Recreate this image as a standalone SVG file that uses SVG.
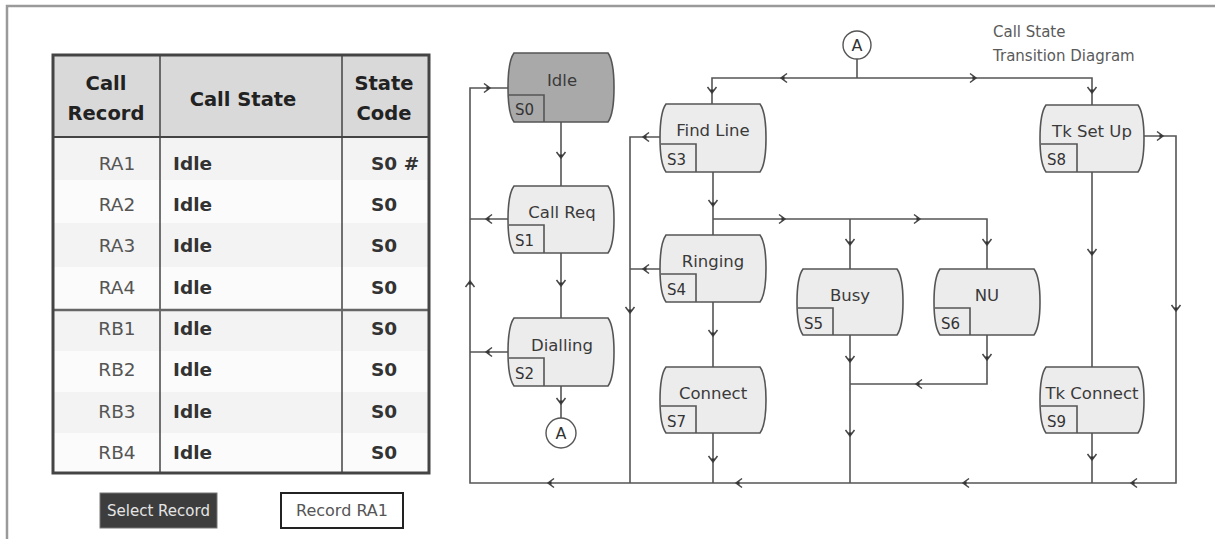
<svg xmlns="http://www.w3.org/2000/svg" xmlns:xlink="http://www.w3.org/1999/xlink" width="1215" height="539" viewBox="0 0 1215 539">
<style>
.hdr{font-family:"DejaVu Sans",sans-serif;font-weight:bold;font-size:19.5px;fill:#222;text-anchor:middle}
.rec{font-family:"DejaVu Sans",sans-serif;font-size:18.5px;fill:#555;text-anchor:middle}
.st{font-family:"DejaVu Sans",sans-serif;font-weight:bold;font-size:18.5px;fill:#333}
.node{fill:#ececec;stroke:#555;stroke-width:1.6}
.idle{fill:#a9a9a9}
.cbox{fill:none;stroke:#555;stroke-width:1.6}
.lbl{font-family:"DejaVu Sans",sans-serif;font-size:16.5px;fill:#3a3a3a;text-anchor:middle}
.code{font-family:"DejaVu Sans",sans-serif;font-size:15px;fill:#333}
.ln{fill:none;stroke:#555;stroke-width:1.6}
.circ{fill:#fff;stroke:#555;stroke-width:1.4}
.ctext{font-family:"DejaVu Sans",sans-serif;font-size:16px;fill:#333;text-anchor:middle}
.title{font-family:"DejaVu Sans",sans-serif;font-size:15px;fill:#5a5a5a}
</style>
<defs>
<g id="ah"><path d="M-6,-4.5 L0,0 L-6,4.5" fill="none" stroke="#444" stroke-width="1.5"/><path d="M-3.5,-2 L0,0 L-3.5,2Z" fill="#333"/></g>
</defs>
<rect x="0" y="0" width="1215" height="539" fill="#fff"/>
<path d="M7,539 V6 H1215" fill="none" stroke="#9a9a9a" stroke-width="2.5"/>

<!-- table -->
<g id="table">
<rect x="53" y="55" width="376" height="82" fill="#d9d9d9"/>
<rect x="53" y="137" width="376" height="43" fill="#f3f3f3"/>
<rect x="53" y="180" width="376" height="43" fill="#fbfbfb"/>
<rect x="53" y="223" width="376" height="44" fill="#f3f3f3"/>
<rect x="53" y="267" width="376" height="43" fill="#fbfbfb"/>
<rect x="53" y="310" width="376" height="41" fill="#f3f3f3"/>
<rect x="53" y="351" width="376" height="41" fill="#fbfbfb"/>
<rect x="53" y="392" width="376" height="41" fill="#f3f3f3"/>
<rect x="53" y="433" width="376" height="40" fill="#fbfbfb"/>
<path d="M160,55 V473 M342,55 V473" stroke="#444" stroke-width="1.5"/>
<path d="M53,137 H429" stroke="#444" stroke-width="1.8"/>
<path d="M53,310 H429" stroke="#666" stroke-width="2.5"/>
<rect x="53" y="55" width="376" height="418" fill="none" stroke="#444" stroke-width="3"/>
<text class="hdr" x="106" y="90">Call</text>
<text class="hdr" x="106" y="120">Record</text>
<text class="hdr" x="243" y="106">Call State</text>
<text class="hdr" x="384" y="90">State</text>
<text class="hdr" x="384" y="120">Code</text>
<text class="rec" x="117" y="170">RA1</text>
<text class="rec" x="117" y="211">RA2</text>
<text class="rec" x="117" y="252">RA3</text>
<text class="rec" x="117" y="294">RA4</text>
<text class="rec" x="117" y="335">RB1</text>
<text class="rec" x="117" y="376">RB2</text>
<text class="rec" x="117" y="418">RB3</text>
<text class="rec" x="117" y="459">RB4</text>
<text class="st" x="173" y="170">Idle</text>
<text class="st" x="173" y="211">Idle</text>
<text class="st" x="173" y="252">Idle</text>
<text class="st" x="173" y="294">Idle</text>
<text class="st" x="173" y="335">Idle</text>
<text class="st" x="173" y="376">Idle</text>
<text class="st" x="173" y="418">Idle</text>
<text class="st" x="173" y="459">Idle</text>
<text class="st" x="371" y="170">S0 #</text>
<text class="st" x="371" y="211">S0</text>
<text class="st" x="371" y="252">S0</text>
<text class="st" x="371" y="294">S0</text>
<text class="st" x="371" y="335">S0</text>
<text class="st" x="371" y="376">S0</text>
<text class="st" x="371" y="418">S0</text>
<text class="st" x="371" y="459">S0</text>
</g>

<g id="btn-select">
<rect x="100" y="493" width="117" height="35" fill="#3d3d3d" stroke="#777" stroke-width="1"/>
<text x="158.5" y="516" font-family="DejaVu Sans, sans-serif" font-size="15" fill="#e4e4e4" text-anchor="middle">Select Record</text>
</g>
<g id="btn-record">
<rect x="281" y="493" width="122" height="35" fill="#fff" stroke="#222" stroke-width="2"/>
<text x="342" y="516" font-family="DejaVu Sans, sans-serif" font-size="16" fill="#555" text-anchor="middle">Record RA1</text>
</g>

<text class="title" x="993" y="37">Call State</text>
<text class="title" x="993" y="61">Transition Diagram</text>

<!-- connectors -->
<g id="connectors">
<path class="ln" d="M508,88 H470 V483 H1176 V136 H1144"/>
<path class="ln" d="M508,219 H470 M508,352 H470"/>
<path class="ln" d="M561,122 V186 M561,253 V318 M561,386 V418"/>
<path class="ln" d="M660,137 H630 V483 M660,269 H630"/>
<path class="ln" d="M857,59 V78 M712,104 V78 H1092 V105"/>
<path class="ln" d="M713,172 V235 M713,219 H987 V269 M850,219 V269"/>
<path class="ln" d="M713,302 V367 M713,433 V483"/>
<path class="ln" d="M850,335 V483 M987,335 V384 H850"/>
<path class="ln" d="M1092,172 V367 M1092,433 V483"/>
<use xlink:href="#ah" transform="translate(490,88)"/>
<use xlink:href="#ah" transform="translate(486,219) rotate(180)"/>
<use xlink:href="#ah" transform="translate(486,352) rotate(180)"/>
<use xlink:href="#ah" transform="translate(470,281) rotate(-90)"/>
<use xlink:href="#ah" transform="translate(548,483) rotate(180)"/>
<use xlink:href="#ah" transform="translate(736,483) rotate(180)"/>
<use xlink:href="#ah" transform="translate(963,483) rotate(180)"/>
<use xlink:href="#ah" transform="translate(1131,483) rotate(180)"/>
<use xlink:href="#ah" transform="translate(561,158) rotate(90)"/>
<use xlink:href="#ah" transform="translate(561,286) rotate(90)"/>
<use xlink:href="#ah" transform="translate(561,404) rotate(90)"/>
<use xlink:href="#ah" transform="translate(643,137) rotate(180)"/>
<use xlink:href="#ah" transform="translate(643,269) rotate(180)"/>
<use xlink:href="#ah" transform="translate(630,313) rotate(90)"/>
<use xlink:href="#ah" transform="translate(781,78) rotate(180)"/>
<use xlink:href="#ah" transform="translate(976,78)"/>
<use xlink:href="#ah" transform="translate(712,93) rotate(90)"/>
<use xlink:href="#ah" transform="translate(1092,93) rotate(90)"/>
<use xlink:href="#ah" transform="translate(713,206) rotate(90)"/>
<use xlink:href="#ah" transform="translate(785,219)"/>
<use xlink:href="#ah" transform="translate(920,219)"/>
<use xlink:href="#ah" transform="translate(850,245) rotate(90)"/>
<use xlink:href="#ah" transform="translate(987,245) rotate(90)"/>
<use xlink:href="#ah" transform="translate(713,336) rotate(90)"/>
<use xlink:href="#ah" transform="translate(713,462) rotate(90)"/>
<use xlink:href="#ah" transform="translate(850,362) rotate(90)"/>
<use xlink:href="#ah" transform="translate(850,436) rotate(90)"/>
<use xlink:href="#ah" transform="translate(987,360) rotate(90)"/>
<use xlink:href="#ah" transform="translate(916,384) rotate(180)"/>
<use xlink:href="#ah" transform="translate(1092,255) rotate(90)"/>
<use xlink:href="#ah" transform="translate(1092,460) rotate(90)"/>
<use xlink:href="#ah" transform="translate(1163,136)"/>
<use xlink:href="#ah" transform="translate(1176,311) rotate(90)"/>
</g>

<!-- connector circles -->
<g id="conn-a-bottom">
<circle class="circ" cx="561" cy="433" r="15"/>
<text class="ctext" x="561" y="439">A</text>
</g>
<g id="conn-a-top">
<circle class="circ" cx="857" cy="45" r="14"/>
<text class="ctext" x="857" y="51">A</text>
</g>

<!-- nodes -->
<g id="s0">
<path class="node idle" d="M514,53 H608 C616,64 616,111 608,122 H514 C506,111 506,64 514,53 Z"/>
<path class="cbox" d="M509,95 H544 V122"/>
<text class="lbl" x="562" y="86">Idle</text>
<text class="code" x="515" y="115">S0</text>
</g>
<g id="s1">
<path class="node" d="M514,186 H608 C616,197 616,242 608,253 H514 C506,242 506,197 514,186 Z"/>
<path class="cbox" d="M509,225 H544 V253"/>
<text class="lbl" x="562" y="218">Call Req</text>
<text class="code" x="515" y="246">S1</text>
</g>
<g id="s2">
<path class="node" d="M514,318 H608 C616,329 616,375 608,386 H514 C506,375 506,329 514,318 Z"/>
<path class="cbox" d="M509,358 H544 V386"/>
<text class="lbl" x="562" y="351">Dialling</text>
<text class="code" x="515" y="379">S2</text>
</g>
<g id="s3">
<path class="node" d="M666,104 H760 C768,115 768,161 760,172 H666 C658,161 658,115 666,104 Z"/>
<path class="cbox" d="M661,144 H696 V172"/>
<text class="lbl" x="713" y="136">Find Line</text>
<text class="code" x="667" y="165">S3</text>
</g>
<g id="s4">
<path class="node" d="M666,235 H760 C768,246 768,291 760,302 H666 C658,291 658,246 666,235 Z"/>
<path class="cbox" d="M661,274 H696 V302"/>
<text class="lbl" x="713" y="267">Ringing</text>
<text class="code" x="667" y="295">S4</text>
</g>
<g id="s7">
<path class="node" d="M666,367 H760 C768,378 768,422 760,433 H666 C658,422 658,378 666,367 Z"/>
<path class="cbox" d="M661,406 H696 V433"/>
<text class="lbl" x="713" y="399">Connect</text>
<text class="code" x="667" y="427">S7</text>
</g>
<g id="s5">
<path class="node" d="M803,269 H897 C905,280 905,324 897,335 H803 C795,324 795,280 803,269 Z"/>
<path class="cbox" d="M798,308 H833 V335"/>
<text class="lbl" x="850" y="301">Busy</text>
<text class="code" x="804" y="329">S5</text>
</g>
<g id="s6">
<path class="node" d="M940,269 H1034 C1042,280 1042,324 1034,335 H940 C932,324 932,280 940,269 Z"/>
<path class="cbox" d="M935,308 H970 V335"/>
<text class="lbl" x="987" y="301">NU</text>
<text class="code" x="941" y="329">S6</text>
</g>
<g id="s8">
<path class="node" d="M1046,105 H1138 C1146,116 1146,161 1138,172 H1046 C1038,161 1038,116 1046,105 Z"/>
<path class="cbox" d="M1041,144 H1077 V172"/>
<text class="lbl" x="1092" y="137">Tk Set Up</text>
<text class="code" x="1047" y="165">S8</text>
</g>
<g id="s9">
<path class="node" d="M1046,367 H1138 C1146,378 1146,422 1138,433 H1046 C1038,422 1038,378 1046,367 Z"/>
<path class="cbox" d="M1041,406 H1077 V433"/>
<text class="lbl" x="1092" y="399">Tk Connect</text>
<text class="code" x="1047" y="427">S9</text>
</g>
</svg>
